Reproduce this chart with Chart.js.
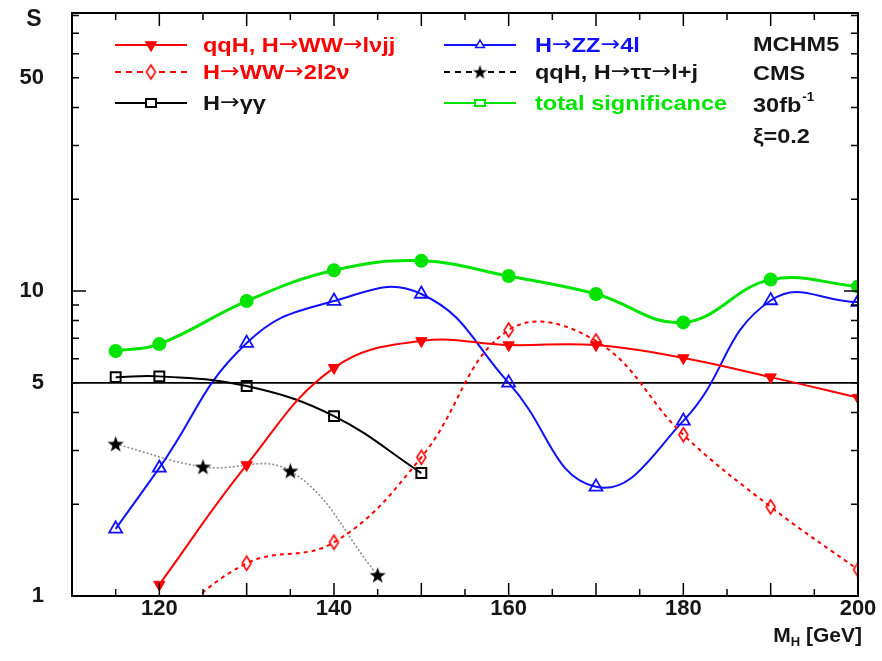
<!DOCTYPE html>
<html>
<head>
<meta charset="utf-8">
<script src="https://cdn.jsdelivr.net/npm/chart.js@4.4.0/dist/chart.umd.min.js"></script>
<style>
  html, body { margin: 0; padding: 0; background: #fff; }
</style>
</head>
<body>
<canvas id="chart" width="882" height="661"></canvas>
<script>
// Significance S vs Higgs mass
var massWWlvjj = [120, 130, 140, 150, 160, 170, 180, 190, 200];
var sigWWlvjj = [1.09, 2.69, 5.6, 6.86, 6.65, 6.65, 6.03, 5.22, 4.47];

var massWW2l2v = [120, 130, 140, 150, 160, 170, 180, 190, 200];
var sigWW2l2v = [0.78, 1.28, 1.5, 2.85, 7.45, 6.86, 3.38, 1.96, 1.22];

var massGG = [115, 120, 130, 140, 150];
var sigGG = [5.22, 5.25, 4.88, 3.89, 2.53];

var massZZ = [115, 120, 130, 140, 150, 160, 170, 180, 190, 200];
var sigZZ = [1.66, 2.63, 6.75, 9.27, 9.78, 5.0, 2.28, 3.75, 9.31, 9.2];

var massTT = [115, 125, 135, 145];
var sigTT = [3.15, 2.65, 2.57, 1.17];

var massTotal = [115, 120, 130, 140, 150, 160, 170, 180, 190, 200];
var sigTotal = [6.36, 6.7, 9.27, 11.7, 12.56, 11.2, 9.78, 7.89, 10.9, 10.35];

var refMass = [110, 200];
var refLevel = [5, 5];

var yLabelValues = [1, 5, 10, 50];
var xLabelValues = [120, 140, 160, 180, 200];

var RED = "#ff0000";
var BLUE = "#1010ff";
var GREEN = "#00e400";
var TEXT = "#161616";
var FONT = "'Liberation Sans', Arial, sans-serif";
var ARROW_FONT = "'DejaVu Sans', sans-serif";
var STRETCH = 1.12;

function pts(xs, ys) {
  return xs.map(function (m, i) { return { x: m, y: ys[i] }; });
}

// filled five pointed star marker
function makeStar(size, color) {
  var c = document.createElement("canvas");
  c.width = size; c.height = size;
  var g = c.getContext("2d");
  g.fillStyle = color;
  g.beginPath();
  for (var i = 0; i < 10; i++) {
    var r = i % 2 ? size * 0.2 : size * 0.5;
    var a = -Math.PI / 2 + i * Math.PI / 5;
    var px = size / 2 + r * Math.cos(a);
    var py = size / 2 + 0.6 + r * Math.sin(a);
    if (i === 0) g.moveTo(px, py); else g.lineTo(px, py);
  }
  g.closePath();
  g.fill();
  return c;
}

// open tall diamond marker
function makeDiamond(w, h, color) {
  var c = document.createElement("canvas");
  c.width = w + 4; c.height = h + 4;
  var g = c.getContext("2d");
  g.strokeStyle = color;
  g.lineWidth = 1.6;
  g.beginPath();
  g.moveTo(c.width / 2, 2);
  g.lineTo(c.width - 2, c.height / 2);
  g.lineTo(c.width / 2, c.height - 2);
  g.lineTo(2, c.height / 2);
  g.closePath();
  g.stroke();
  return c;
}

var starImg = makeStar(17, "#000");
var starLegend = makeStar(15, "#000");
var diamondImg = makeDiamond(9, 14, RED);

var datasets = [
  {
    label: "qqH, H\u2192WW\u2192l\u03bdjj",
    data: pts(massWWlvjj, sigWWlvjj),
    borderColor: RED, borderWidth: 2,
    pointStyle: "triangle", rotation: 180, pointRadius: 6.5,
    pointBackgroundColor: RED, pointBorderColor: RED, pointBorderWidth: 1,
    tension: 0.4
  },
  {
    label: "H\u2192WW\u21922l2\u03bd",
    data: pts(massWW2l2v, sigWW2l2v),
    borderColor: RED, borderWidth: 2, borderDash: [4, 4],
    pointStyle: diamondImg, pointRadius: 7,
    tension: 0.4
  },
  {
    label: "H\u2192\u03b3\u03b3",
    data: pts(massGG, sigGG),
    borderColor: "#000", borderWidth: 2,
    pointStyle: "rect", pointRadius: 7,
    pointBackgroundColor: "rgba(0,0,0,0)", pointBorderColor: "#000", pointBorderWidth: 2,
    tension: 0.4
  },
  {
    label: "H\u2192ZZ\u21924l",
    data: pts(massZZ, sigZZ),
    borderColor: BLUE, borderWidth: 2,
    pointStyle: "triangle", pointRadius: 7.5,
    pointBackgroundColor: "rgba(0,0,0,0)", pointBorderColor: BLUE, pointBorderWidth: 1.8,
    tension: 0.45
  },
  {
    label: "qqH, H\u2192\u03c4\u03c4\u2192l+j",
    data: pts(massTT, sigTT),
    borderColor: "#909090", borderWidth: 1.6, borderDash: [2, 2],
    pointStyle: starImg, pointRadius: 8,
    tension: 0.4
  },
  {
    label: "total significance",
    data: pts(massTotal, sigTotal),
    borderColor: GREEN, borderWidth: 3,
    pointStyle: "circle", pointRadius: 5.5,
    pointBackgroundColor: GREEN, pointBorderColor: GREEN,
    tension: 0.4
  },
  {
    label: "S = 5",
    data: pts(refMass, refLevel),
    borderColor: "#000", borderWidth: 1.6,
    pointRadius: 0, tension: 0
  }
];

var legendRows = [
  { x0: 115, y: 45, tx: 203, ds: 0, color: RED, dash: [] },
  { x0: 115, y: 72, tx: 203, ds: 1, color: RED, dash: [6, 5] },
  { x0: 115, y: 103, tx: 203, ds: 2, color: "#000", dash: [] },
  { x0: 444, y: 45, tx: 535, ds: 3, color: BLUE, dash: [] },
  { x0: 444, y: 72, tx: 535, ds: 4, color: "#000", dash: [6, 5] },
  { x0: 444, y: 103, tx: 535, ds: 5, color: GREEN, dash: [] }
];

// text with long thin arrows and a slight horizontal stretch, like the original
function wideText(ctx, text, x, y, size) {
  ctx.save();
  ctx.translate(x, y);
  ctx.scale(STRETCH, 1);
  ctx.textAlign = "left";
  ctx.textBaseline = "middle";
  var parts = text.split("\u2192");
  var cx = 0;
  parts.forEach(function (p, i) {
    if (i > 0) {
      ctx.font = size + "px " + ARROW_FONT;
      ctx.fillText("\u2192", cx, 0);
      cx += ctx.measureText("\u2192").width;
    }
    ctx.font = "bold " + size + "px " + FONT;
    ctx.fillText(p, cx, 0);
    cx += ctx.measureText(p).width;
  });
  ctx.restore();
  return cx * STRETCH;
}

function drawMarker(ctx, row) {
  var h = Chart.helpers;
  var cx = row.x0 + 36;
  ctx.save();
  ctx.setLineDash([]);
  if (row.ds === 0) {
    ctx.fillStyle = RED; ctx.strokeStyle = RED; ctx.lineWidth = 1;
    h.drawPoint(ctx, { pointStyle: "triangle", radius: 6.5, rotation: 180, borderWidth: 1 }, cx, row.y);
  } else if (row.ds === 1) {
    ctx.fillStyle = "#fff";
    ctx.fillRect(cx - 5, row.y - 7, 10, 14);
    ctx.drawImage(diamondImg, cx - diamondImg.width / 2, row.y - diamondImg.height / 2);
  } else if (row.ds === 2) {
    ctx.fillStyle = "#fff"; ctx.strokeStyle = "#000"; ctx.lineWidth = 2;
    ctx.fillRect(cx - 5, row.y - 4, 10, 8);
    ctx.strokeRect(cx - 5, row.y - 4, 10, 8);
  } else if (row.ds === 3) {
    ctx.fillStyle = "#fff"; ctx.strokeStyle = BLUE; ctx.lineWidth = 1.5;
    h.drawPoint(ctx, { pointStyle: "triangle", radius: 5, rotation: 0, borderWidth: 1.5 }, cx, row.y);
  } else if (row.ds === 4) {
    ctx.drawImage(starLegend, cx - starLegend.width / 2, row.y - starLegend.height / 2);
  } else if (row.ds === 5) {
    ctx.fillStyle = "#fff"; ctx.strokeStyle = GREEN; ctx.lineWidth = 2;
    ctx.fillRect(cx - 5, row.y - 3, 10, 6);
    ctx.strokeRect(cx - 5, row.y - 3, 10, 6);
  }
  ctx.restore();
}

var framePlugin = {
  id: "frame",
  afterDraw: function (chart) {
    var ctx = chart.ctx;
    var a = chart.chartArea;
    var xs = chart.scales.x;
    var ys = chart.scales.y;
    ctx.save();

    // frame
    ctx.strokeStyle = "#000";
    ctx.lineWidth = 2;
    ctx.strokeRect(a.left, a.top, a.right - a.left, a.bottom - a.top);

    // inward ticks
    ctx.lineWidth = 1.5;
    ctx.beginPath();
    for (var m = 110; m <= 200; m += 5) {
      var px = xs.getPixelForValue(m);
      var len = m % 10 === 0 ? 13 : 7;
      ctx.moveTo(px, a.bottom); ctx.lineTo(px, a.bottom - len);
      ctx.moveTo(px, a.top); ctx.lineTo(px, a.top + len);
    }
    var yt = [1, 2, 3, 4, 5, 6, 7, 8, 9, 10, 20, 30, 40, 50, 60, 70, 80];
    yt.forEach(function (v) {
      var py = ys.getPixelForValue(v);
      var len = (v === 1 || v === 10) ? 14 : 7;
      ctx.moveTo(a.left, py); ctx.lineTo(a.left + len, py);
      ctx.moveTo(a.right, py); ctx.lineTo(a.right - len, py);
    });
    ctx.stroke();

    // axis titles
    ctx.fillStyle = TEXT;
    ctx.textBaseline = "middle";
    ctx.font = "bold 23px " + FONT;
    ctx.textAlign = "center";
    ctx.fillText("S", 34, 20);

    ctx.textAlign = "right";
    var tail = " [GeV]";
    ctx.font = "bold 21px " + FONT;
    var tailW = ctx.measureText(tail).width;
    ctx.fillText(tail, 862, 636);
    ctx.font = "bold 13px " + FONT;
    var subW = ctx.measureText("H").width;
    ctx.fillText("H", 862 - tailW, 642);
    ctx.font = "bold 21px " + FONT;
    ctx.fillText("M", 862 - tailW - subW, 636);

    // legend
    legendRows.forEach(function (row) {
      ctx.save();
      ctx.strokeStyle = row.color;
      ctx.lineWidth = 2;
      ctx.setLineDash(row.dash);
      ctx.beginPath();
      ctx.moveTo(row.x0, row.y); ctx.lineTo(row.x0 + 72, row.y);
      ctx.stroke();
      ctx.restore();
      drawMarker(ctx, row);
      ctx.fillStyle = (row.ds === 4 || row.ds === 2) ? TEXT : row.color;
      wideText(ctx, datasets[row.ds].label, row.tx, row.y + 1, 21);
    });

    // annotations
    ctx.fillStyle = TEXT;
    wideText(ctx, "MCHM5", 753, 45, 21);
    wideText(ctx, "CMS", 753, 74, 21);
    var w30 = wideText(ctx, "30fb", 753, 106, 21);
    wideText(ctx, "-1", 753 + w30 + 1, 98, 12);
    wideText(ctx, "\u03be=0.2", 753, 137, 21);

    ctx.restore();
  }
};

new Chart(document.getElementById("chart"), {
  type: "line",
  data: { datasets: datasets },
  options: {
    responsive: false,
    animation: false,
    devicePixelRatio: 1,
    layout: { padding: { top: 13, right: 24, left: 0, bottom: 0 } },
    elements: { line: { capBezierPoints: false } },
    datasets: { line: { clip: 0, fill: false } },
    plugins: { legend: { display: false }, tooltip: { enabled: false } },
    scales: {
      x: {
        type: "linear", min: 110, max: 200,
        grid: { display: false, drawTicks: false },
        border: { display: false },
        ticks: {
          stepSize: 5, autoSkip: false, maxRotation: 0, padding: 0,
          color: TEXT, font: { family: FONT, size: 22, weight: "bold" },
          callback: function (v) { return xLabelValues.indexOf(v) >= 0 ? String(v) : ""; }
        },
        afterFit: function (s) { s.height = 65; s.paddingLeft = 0; s.paddingRight = 0; }
      },
      y: {
        type: "logarithmic", min: 1, max: 81.6,
        grid: { display: false, drawTicks: false },
        border: { display: false },
        ticks: {
          autoSkip: false, padding: 28,
          color: TEXT, font: { family: FONT, size: 22, weight: "bold" },
          callback: function (v) {
            for (var i = 0; i < yLabelValues.length; i++) {
              if (Math.abs(v - yLabelValues[i]) < 1e-6) return String(yLabelValues[i]);
            }
            return "";
          }
        },
        afterFit: function (s) { s.width = 72; s.paddingTop = 0; s.paddingBottom = 0; }
      }
    }
  },
  plugins: [framePlugin]
});
</script>
</body>
</html>
